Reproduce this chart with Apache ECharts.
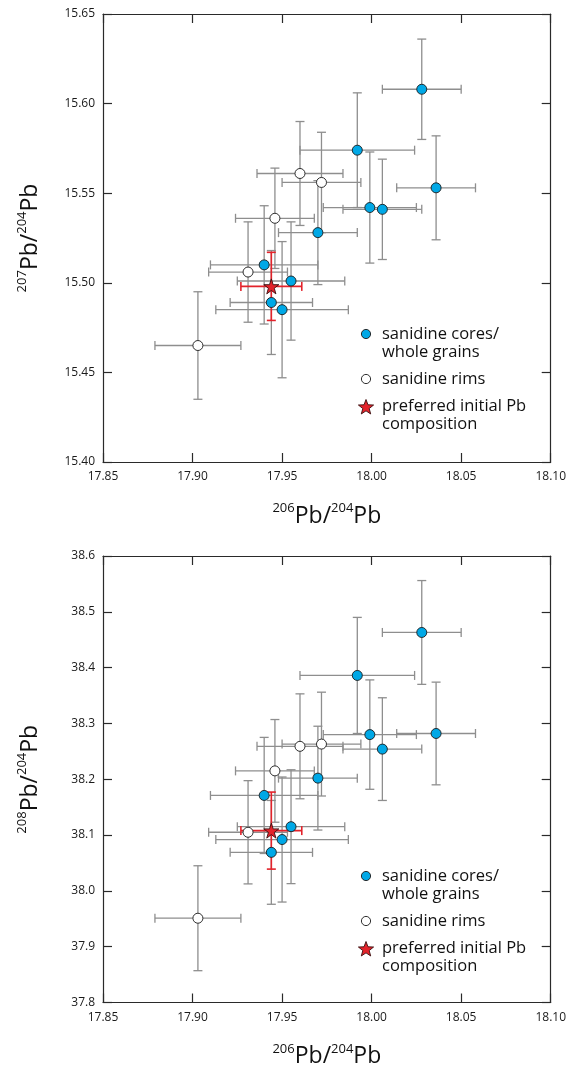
<!DOCTYPE html>
<html>
<head>
<meta charset="utf-8">
<script src="https://cdn.jsdelivr.net/npm/echarts@6/dist/echarts.min.js"></script>
<style>
html,body{margin:0;padding:0;background:#fff;}
#chart{width:569px;height:1069px;}
</style>
</head>
<body>
<div id="chart"></div>
<script>
// ---- Data ----
// sanidine cores / whole grains
const coreX     = [18.028, 17.992, 18.036, 17.999, 18.006, 17.970, 17.940, 17.955, 17.944, 17.950];
const coreXErr  = [0.022, 0.032, 0.022, 0.026, 0.022, 0.022, 0.030, 0.030, 0.023, 0.037];
const core207   = [15.608, 15.574, 15.553, 15.542, 15.541, 15.528, 15.510, 15.501, 15.489, 15.485];
const core207Err= [0.028, 0.032, 0.029, 0.031, 0.028, 0.029, 0.033, 0.033, 0.029, 0.038];
const core208   = [38.463, 38.386, 38.282, 38.280, 38.254, 38.202, 38.171, 38.115, 38.069, 38.092];
const core208Err= [0.093, 0.104, 0.092, 0.098, 0.092, 0.093, 0.104, 0.102, 0.093, 0.112];
// sanidine rims
const rimX      = [17.960, 17.972, 17.946, 17.931, 17.903];
const rimXErr   = [0.024, 0.022, 0.022, 0.022, 0.024];
const rim207    = [15.561, 15.556, 15.536, 15.506, 15.465];
const rim207Err = [0.029, 0.028, 0.028, 0.028, 0.030];
const rim208    = [38.259, 38.263, 38.215, 38.105, 37.951];
const rim208Err = [0.094, 0.093, 0.092, 0.0925, 0.094];
// preferred initial Pb composition
const prefX     = [17.944];
const prefXErr  = [0.017];
const pref207   = [15.498];
const pref207Err= [0.019];
const pref208   = [38.108];
const pref208Err= [0.069];

// axis ranges / ticks
const xRange   = [17.85, 18.10, 0.05];
const y207Range= [15.40, 15.65, 0.05];
const y208Range= [37.8, 38.6, 0.1];
const legendLabels = ['sanidine cores/\nwhole grains', 'sanidine rims', 'preferred initial Pb\ncomposition'];

// ---- Layout ----
const GL = 103, GW = 448, GH = 448;
const gridTops = [14, 556];
const FONT = '"Open Sans", "Liberation Sans", sans-serif';
const BLUE = '#00a8e6', RED = '#e3232b', GRAY = '#8e8e8e', AXC = '#2a2a2a';
const STAR = 'path://M50,0 L61.8,35.1 L98.1,35.1 L68.8,56.7 L79.4,91.0 L50,70 L20.6,91.0 L31.2,56.7 L1.9,35.1 L38.2,35.1 Z';

function starPoints(cx, cy, R){
  const r = R*0.42, pts=[];
  for(let i=0;i<10;i++){
    const a = -Math.PI/2 + i*Math.PI/5;
    const rr = i%2===0 ? R : r;
    pts.push([cx + rr*Math.cos(a), cy + rr*Math.sin(a)]);
  }
  return pts;
}

function zip(xs, ys, xe, ye){ return xs.map((x,i)=>[x, ys[i], xe[i], ye[i]]); }

function errRender(color, width){
  return function(params, api){
    const x=api.value(0), y=api.value(1), xe=api.value(2), ye=api.value(3);
    const l=api.coord([x-xe,y]), r=api.coord([x+xe,y]);
    const t=api.coord([x,y+ye]), b=api.coord([x,y-ye]);
    const cap=4.5;
    const st={stroke:color, lineWidth:width, fill:null};
    const ln=(x1,y1,x2,y2)=>({type:'line', shape:{x1,y1,x2,y2}, style:st});
    return {type:'group', children:[
      ln(l[0],l[1],r[0],r[1]),
      ln(l[0],l[1]-cap,l[0],l[1]+cap),
      ln(r[0],r[1]-cap,r[0],r[1]+cap),
      ln(t[0],t[1],b[0],b[1]),
      ln(t[0]-cap,t[1],t[0]+cap,t[1]),
      ln(b[0]-cap,b[1],b[0]+cap,b[1])
    ]};
  };
}

const titleRich = {
  sup:{fontSize:13, fontFamily:FONT, color:'#111', verticalAlign:'top', lineHeight:14},
  pb:{fontSize:23, fontFamily:FONT, color:'#111', lineHeight:28}
};

const grids=[], xAxes=[], yAxes=[], series=[], graphics=[];
const yDefs = [
  {range:y207Range, dec:2, name:'{sup|207}{pb|Pb/}{sup|204}{pb|Pb}', core:core207, coreE:core207Err, rim:rim207, rimE:rim207Err, pref:pref207, prefE:pref207Err},
  {range:y208Range, dec:1, name:'{sup|208}{pb|Pb/}{sup|204}{pb|Pb}', core:core208, coreE:core208Err, rim:rim208, rimE:rim208Err, pref:pref208, prefE:pref208Err}
];

yDefs.forEach((d, g)=>{
  grids.push({left:GL, top:gridTops[g], width:GW, height:GH, containLabel:false});
  const axisLine={show:true, lineStyle:{color:AXC, width:1.2}};
  const tick={show:true, inside:true, length:9, lineStyle:{color:AXC, width:1.2}};
  xAxes.push({type:'value', gridIndex:g, position:'bottom', min:xRange[0], max:xRange[1], interval:xRange[2],
    axisLine, axisTick:tick, splitLine:{show:false},
    axisLabel:{fontFamily:FONT, fontSize:12, color:'#1a1a1a', margin:9, formatter:v=>v.toFixed(2)},
    name:'{sup|206}{pb|Pb/}{sup|204}{pb|Pb}', nameLocation:'middle', nameGap:40,
    nameTextStyle:{rich:titleRich}});
  xAxes.push({type:'value', gridIndex:g, position:'top', min:xRange[0], max:xRange[1], interval:xRange[2],
    axisLine, axisTick:tick, axisLabel:{show:false}, splitLine:{show:false}});
  yAxes.push({type:'value', gridIndex:g, position:'left', min:d.range[0], max:d.range[1], interval:d.range[2],
    axisLine, axisTick:tick, splitLine:{show:false},
    axisLabel:{fontFamily:FONT, fontSize:12, color:'#1a1a1a', margin:8, formatter:v=>v.toFixed(d.dec)},
    name:d.name, nameLocation:'middle', nameRotate:90, nameGap:59,
    nameTextStyle:{rich:titleRich}});
  yAxes.push({type:'value', gridIndex:g, position:'right', min:d.range[0], max:d.range[1], interval:d.range[2],
    axisLine, axisTick:tick, axisLabel:{show:false}, splitLine:{show:false}});
  const xi=g*2, yi=g*2;
  series.push({type:'custom', xAxisIndex:xi, yAxisIndex:yi, renderItem:errRender(GRAY,1.3),
    data:zip(coreX, d.core, coreXErr, d.coreE).concat(zip(rimX, d.rim, rimXErr, d.rimE)), encode:{x:0,y:1}, z:1, silent:true});
  series.push({type:'custom', xAxisIndex:xi, yAxisIndex:yi, renderItem:errRender(RED,1.6),
    data:zip(prefX, d.pref, prefXErr, d.prefE), encode:{x:0,y:1}, z:2, silent:true});
  series.push({type:'scatter', name:'cores', xAxisIndex:xi, yAxisIndex:yi, symbol:'circle', symbolSize:10,
    itemStyle:{color:BLUE, borderColor:'#1a1a1a', borderWidth:0.9, opacity:1},
    data:coreX.map((x,i)=>[x, d.core[i]]), z:3});
  series.push({type:'scatter', name:'rims', xAxisIndex:xi, yAxisIndex:yi, symbol:'circle', symbolSize:10,
    itemStyle:{color:'#fff', borderColor:'#1a1a1a', borderWidth:0.9, opacity:1},
    data:rimX.map((x,i)=>[x, d.rim[i]]), z:3});
  series.push({type:'scatter', name:'preferred', xAxisIndex:xi, yAxisIndex:yi, symbol:STAR, symbolSize:15,
    itemStyle:{color:RED, borderColor:'#3a1010', borderWidth:0.9, opacity:1},
    data:prefX.map((x,i)=>[x, d.pref[i]]), z:4});

  // legend (drawn as graphics)
  const T = gridTops[g];
  const mx = 366, tx = 382;
  const ts = {fontFamily:FONT, fontSize:16.5, fill:'#111', lineHeight:18, verticalAlign:'middle', align:'left'};
  graphics.push({type:'circle', shape:{cx:mx, cy:T+320, r:4.6}, style:{fill:BLUE, stroke:'#1a1a1a', lineWidth:0.9}});
  graphics.push({type:'text', x:tx, y:T+329.5, style:Object.assign({text:legendLabels[0]}, ts)});
  graphics.push({type:'circle', shape:{cx:mx, cy:T+365, r:4.6}, style:{fill:'#fff', stroke:'#1a1a1a', lineWidth:0.9}});
  graphics.push({type:'text', x:tx, y:T+365, style:Object.assign({text:legendLabels[1]}, ts)});
  graphics.push({type:'polygon', shape:{points:starPoints(mx, T+393.5, 8)}, style:{fill:RED, stroke:'#3a1010', lineWidth:0.9}});
  graphics.push({type:'text', x:tx, y:T+401.5, style:Object.assign({text:legendLabels[2]}, ts)});
});

const chart = echarts.init(document.getElementById('chart'), null, {renderer:'canvas'});
chart.setOption({
  animation:false,
  backgroundColor:'#fff',
  grid:grids, xAxis:xAxes, yAxis:yAxes, series:series, graphic:graphics
});
</script>
</body>
</html>
